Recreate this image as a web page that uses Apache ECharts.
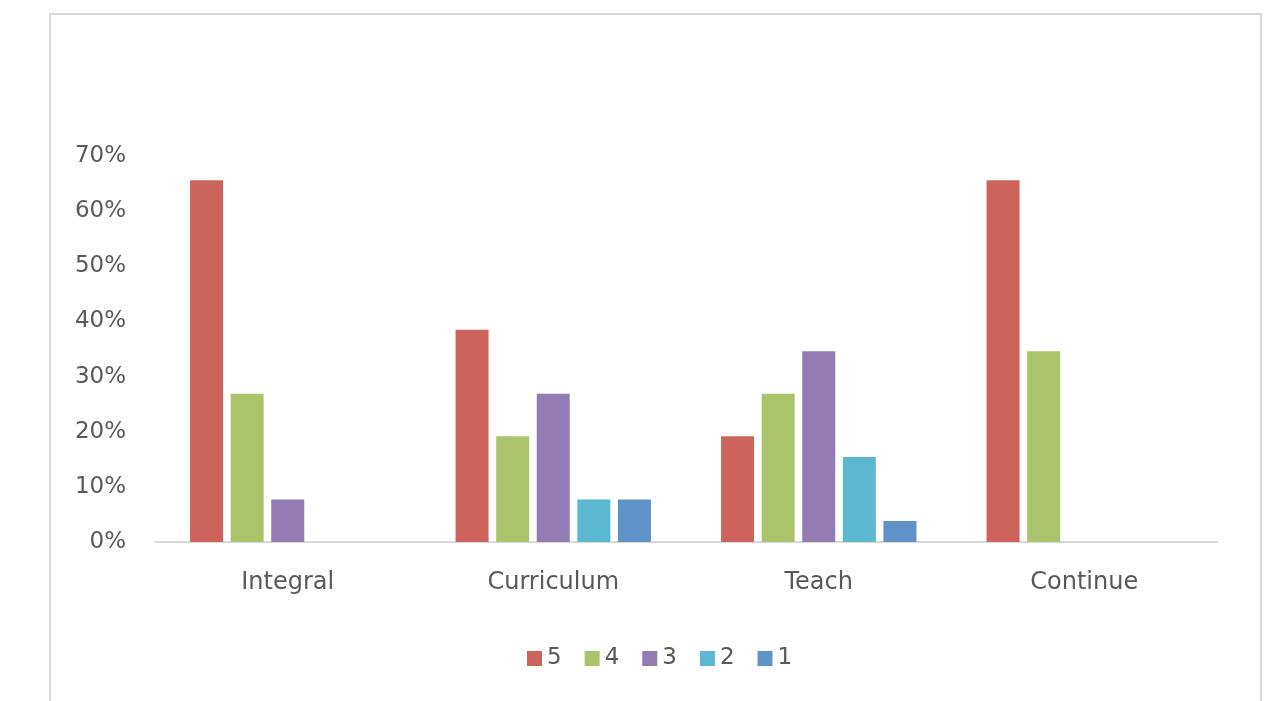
<!DOCTYPE html>
<html>
<head>
<meta charset="utf-8">
<script src="https://cdn.jsdelivr.net/npm/echarts@6/dist/echarts.min.js"></script>
<style>
  html, body { margin: 0; padding: 0; background: #fff; }
  #chart { width: 1273px; height: 701px; }
</style>
</head>
<body>
<div id="chart"></div>
<script>
// Survey response shares by question, rating 5 (best) to 1
const categories = ['Integral', 'Curriculum', 'Teach', 'Continue'];
const seriesNames = ['5', '4', '3', '2', '1'];
const rating5 = [65.6, 38.5, 19.2, 65.6];
const rating4 = [26.9, 19.2, 26.9, 34.6];
const rating3 = [7.7, 26.9, 34.6, 0];
const rating2 = [0, 7.7, 15.4, 0];
const rating1 = [0, 7.7, 3.8, 0];
const yTicks = [0, 10, 20, 30, 40, 50, 60, 70];

const colors = ['#CD645C', '#ABC46C', '#937BB4', '#5BB8D0', '#5F93C8'];
const values = [rating5, rating4, rating3, rating2, rating1];
const textColor = '#595959';
const fontFamily = '"DejaVu Sans", "Open Sans", sans-serif';

const chart = echarts.init(document.getElementById('chart'));
chart.setOption({
  animation: false,
  color: colors,
  graphic: [{
    type: 'rect',
    shape: { x: 50, y: 14, width: 1211, height: 720 },
    style: { fill: 'none', stroke: '#d9d9d9', lineWidth: 2 },
    silent: true
  }],
  grid: { left: 155, right: 56, top: 156, bottom: 159, containLabel: false },
  legend: {
    data: seriesNames,
    left: 527,
    top: 647,
    padding: 0,
    itemWidth: 15,
    itemHeight: 15,
    itemGap: 23,
    icon: 'rect',
    textStyle: { color: textColor, fontSize: 23, fontFamily: fontFamily }
  },
  xAxis: {
    type: 'category',
    data: categories,
    axisLine: { lineStyle: { color: '#d9d9d9', width: 2 } },
    axisTick: { show: false },
    axisLabel: { color: textColor, fontSize: 24, fontFamily: fontFamily, margin: 29 }
  },
  yAxis: {
    type: 'value',
    min: yTicks[0],
    max: yTicks[yTicks.length - 1],
    interval: 10,
    splitLine: { show: false },
    axisLine: { show: false },
    axisTick: { show: false },
    axisLabel: {
      color: textColor, fontSize: 23, fontFamily: fontFamily, margin: 29,
      formatter: function (v) { return v + '%'; }
    }
  },
  series: seriesNames.map(function (name, i) {
    return {
      name: name,
      type: 'bar',
      data: values[i].map(function (v) { return v === 0 ? null : v; }),
      barWidth: 33,
      barGap: '23%',
      barCategoryGap: '26%'
    };
  })
});
</script>
</body>
</html>
